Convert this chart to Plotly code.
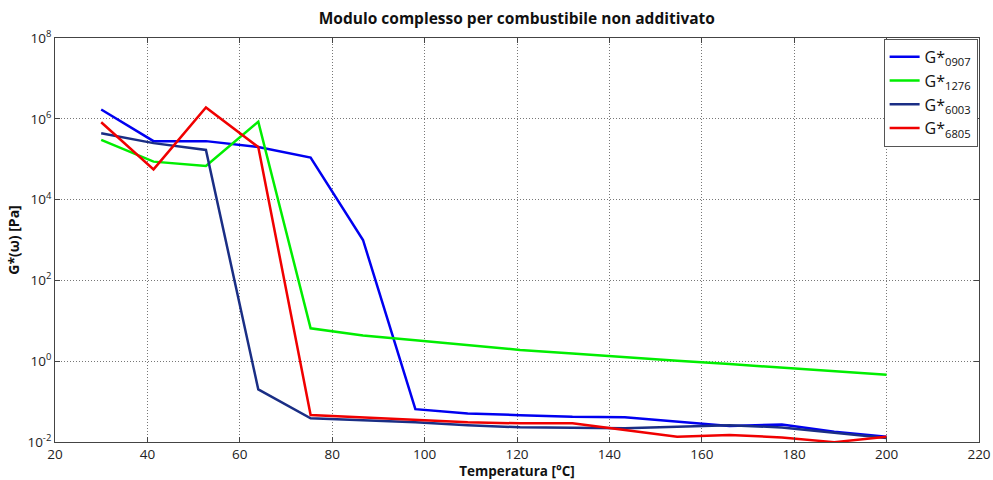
import plotly.graph_objects as go

temperature = [30, 41.33, 52.67, 64, 75.33, 86.67, 98, 109.33, 120.67, 132,
               143.33, 154.67, 166, 177.33, 188.67, 200]

g_0907 = [1.7e6, 2.8e5, 2.8e5, 2.0e5, 1.1e5, 1.0e3, 0.065, 0.051, 0.046, 0.042,
          0.041, 0.032, 0.025, 0.027, 0.018, 0.0135]
g_1276 = [3.0e5, 8.7e4, 6.8e4, 8.5e5, 6.5, 4.3, 3.3, 2.5, 1.9, 1.55,
          1.25, 1.03, 0.85, 0.7, 0.57, 0.46]
g_6003 = [4.4e5, 2.5e5, 1.7e5, 0.2, 0.0386, 0.035, 0.0307, 0.0259, 0.0231, 0.0226,
          0.022, 0.024, 0.026, 0.023, 0.017, 0.0125]
g_6805 = [8.2e5, 5.6e4, 1.9e6, 2.0e5, 0.0466, 0.041, 0.035, 0.0307, 0.029, 0.029,
          0.0198, 0.0135, 0.0149, 0.013, 0.0099, 0.0135]

series_names = ["G*<sub>0907</sub>", "G*<sub>1276</sub>", "G*<sub>6003</sub>", "G*<sub>6805</sub>"]
series_values = [g_0907, g_1276, g_6003, g_6805]
series_colors = ["#0000F0", "#00EE00", "#1A2E85", "#F00000"]

x_ticks = [20, 40, 60, 80, 100, 120, 140, 160, 180, 200, 220]
y_tick_vals = [1e-2, 1e0, 1e2, 1e4, 1e6, 1e8]
y_tick_text = ["10<sup>-2</sup>", "10<sup>0</sup>", "10<sup>2</sup>", "10<sup>4</sup>",
               "10<sup>6</sup>", "10<sup>8</sup>"]

fig = go.Figure()
for name, vals, col in zip(series_names, series_values, series_colors):
    fig.add_trace(go.Scatter(x=temperature, y=vals, mode="lines", name=name,
                             line=dict(color=col, width=2.5)))

font_family = "Open Sans"
fig.update_layout(
    width=993, height=480,
    margin=dict(l=55, r=14, t=38, b=38, autoexpand=False),
    paper_bgcolor="white", plot_bgcolor="white",
    font=dict(family=font_family, size=13.5, color="#222"),
    title=dict(text="<b>Modulo complesso per combustibile non additivato</b>",
               x=0.5205, xanchor="center", y=0.962, yanchor="middle",
               font=dict(family=font_family, size=15.5, color="#111")),
    showlegend=True,
    legend=dict(x=0.9985, xanchor="right", y=0.998, yanchor="top",
                bordercolor="#555", borderwidth=1, bgcolor="white",
                font=dict(family=font_family, size=16, color="#111"),
                tracegroupgap=0, itemwidth=30),
)
fig.update_xaxes(
    range=[20, 220], tickvals=x_ticks, ticktext=[str(v) for v in x_ticks],
    showgrid=True, gridcolor="#777", griddash="1px,2px", gridwidth=1,
    showline=True, linecolor="#444", linewidth=1, mirror="ticks",
    ticks="inside", ticklen=5, tickcolor="#444",
    zeroline=False, automargin=False,
    title=dict(text="<b>Temperatura [°C]</b>", standoff=3,
               font=dict(family=font_family, size=13.5, color="#111")),
)
fig.update_yaxes(
    type="log", range=[-2, 8], tickvals=y_tick_vals, ticktext=y_tick_text,
    showgrid=True, gridcolor="#777", griddash="1px,2px", gridwidth=1,
    showline=True, linecolor="#444", linewidth=1, mirror="ticks",
    ticks="inside", ticklen=5, tickcolor="#444",
    zeroline=False, automargin=False,
    title=dict(text="<b>G*(ω) [Pa]</b>", standoff=4,
               font=dict(family=font_family, size=14, color="#111")),
)

fig.write_html("out.html")
